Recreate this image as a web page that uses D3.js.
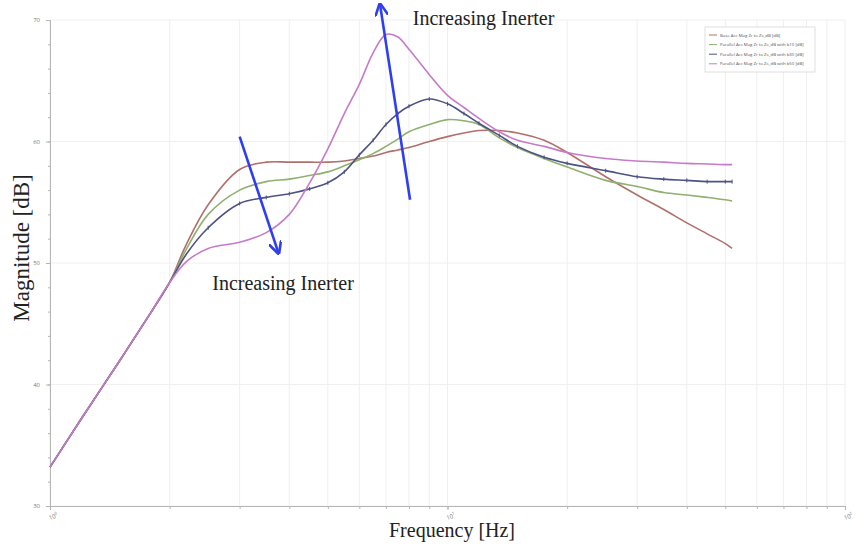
<!DOCTYPE html>
<html>
<head>
<meta charset="utf-8">
<script src="https://cdn.jsdelivr.net/npm/d3@7"></script>
<style>
  body { margin: 0; background: #fff; }
  svg { display: block; }
</style>
</head>
<body>
<svg id="bode_chart"></svg>
<script>
// frequencies (Hz) shared by every series
let freqs = [1, 1.2, 1.5, 1.8, 2, 2.2, 2.5, 3, 3.5, 4, 4.5, 5, 5.5, 6, 6.5, 7, 7.5, 8, 9, 10, 11, 12, 13.5, 15, 17.5, 20, 25, 30, 35, 40, 45, 50, 52]

// magnitudes (dB)
let baseMag = [33.2, 37.2, 42.0, 46.0, 48.4, 51.5, 54.8, 57.7, 58.3, 58.3, 58.3, 58.3, 58.4, 58.6, 58.8, 59.1, 59.3, 59.5, 60.0, 60.4, 60.7, 60.9, 60.9, 60.7, 60.1, 59.1, 57.1, 55.6, 54.4, 53.3, 52.4, 51.6, 51.2]
let b10Mag = [33.2, 37.2, 42.0, 46.0, 48.4, 51.1, 54.0, 56.0, 56.7, 56.9, 57.2, 57.5, 58.0, 58.5, 59.0, 59.6, 60.2, 60.8, 61.4, 61.8, 61.7, 61.4, 60.3, 59.5, 58.6, 57.9, 56.8, 56.3, 55.8, 55.6, 55.4, 55.2, 55.1]
let b30Mag = [33.2, 37.2, 42.0, 46.0, 48.4, 50.7, 52.9, 54.9, 55.4, 55.7, 56.1, 56.6, 57.5, 58.9, 60.1, 61.4, 62.3, 62.9, 63.5, 63.1, 62.3, 61.5, 60.5, 59.6, 58.7, 58.2, 57.6, 57.1, 56.9, 56.8, 56.7, 56.7, 56.7]
let b50Mag = [33.2, 37.2, 42.0, 46.0, 48.4, 50.1, 51.2, 51.7, 52.5, 54.0, 56.6, 59.4, 62.3, 64.7, 67.3, 68.8, 68.6, 67.6, 65.5, 63.8, 62.8, 61.9, 60.8, 60.1, 59.6, 59.1, 58.6, 58.4, 58.3, 58.2, 58.15, 58.1, 58.1]

let seriesNames = [
    "Base Acc Mag Zr to Zs_dB [dB]",
    "Parallel Acc Mag Zr to Zs_dB with b10 [dB]",
    "Parallel Acc Mag Zr to Zs_dB with b30 [dB]",
    "Parallel Acc Mag Zr to Zs_dB with b50 [dB]"
]
let seriesColors = ["#b0706a", "#8fb06e", "#4c5282", "#c57bc8"]
let seriesValues = [baseMag, b10Mag, b30Mag, b50Mag]

let yTicks = [30, 40, 50, 60, 70]
let xDecades = [1, 10, 100]
let xDecadeLabels = ["0", "1", "2"]

// arrows: [from freq, from dB, to freq, to dB]
let arrows = [[3.0, 60.4, 3.75, 50.9], [8.05, 55.2, 6.77, 71.2]]
let notes = [{text: "Increasing Inerter", f: 8.18, db: 69.6}, {text: "Increasing Inerter", f: 2.56, db: 47.8}]

let width = 865
let height = 546
let plot = {left: 50, right: 845, top: 20, bottom: 506}

let svg = d3.select("#bode_chart")
    .attr("width", width)
    .attr("height", height)

let defs = svg.append("defs")
defs.append("marker")
    .attr("id", "arrow_head")
    .attr("viewBox", "0 0 10 10")
    .attr("refX", 8)
    .attr("refY", 5)
    .attr("markerWidth", 5)
    .attr("markerHeight", 5)
    .attr("orient", "auto")
    .append("path")
    .attr("d", "M0,0 L10,5 L0,10")
    .attr("fill", "none")
    .attr("stroke", "#2f3ff0")
    .attr("stroke-width", 2)

let xScale = d3.scaleLog().domain([1, 100]).range([plot.left, plot.right])
let yScale = d3.scaleLinear().domain([30, 70]).range([plot.bottom, plot.top])

// grid
let grid = svg.append("g").attr("id", "grid")
grid.selectAll("line.vgrid")
    .data(xScale.ticks())
    .join("line")
    .attr("class", "vgrid")
    .attr("x1", d => xScale(d)).attr("x2", d => xScale(d))
    .attr("y1", plot.top).attr("y2", plot.bottom)
    .attr("stroke", "#efefef")
    .attr("stroke-width", 1)
grid.selectAll("line.hgrid")
    .data(yTicks)
    .join("line")
    .attr("class", "hgrid")
    .attr("x1", plot.left).attr("x2", plot.right)
    .attr("y1", d => yScale(d)).attr("y2", d => yScale(d))
    .attr("stroke", "#f0f0f0")
    .attr("stroke-width", 1)

// axes
let yAxis = svg.append("g")
    .attr("transform", "translate(" + plot.left + ",0)")
    .call(d3.axisLeft(yScale).tickValues(d3.range(30, 71, 2)).tickSize(2).tickFormat(""))
let yAxisMajor = svg.append("g")
    .attr("transform", "translate(" + plot.left + ",0)")
    .call(d3.axisLeft(yScale).tickValues(yTicks).tickSize(4).tickPadding(6))
let xAxis = svg.append("g")
    .attr("transform", "translate(0," + plot.bottom + ")")
    .call(d3.axisBottom(xScale).tickValues(xScale.ticks()).tickSize(3).tickFormat(""))
let xAxisMajor = svg.append("g")
    .attr("transform", "translate(0," + plot.bottom + ")")
    .call(d3.axisBottom(xScale).tickValues(xDecades).tickSize(4).tickFormat(""))

svg.selectAll(".domain, .tick line").attr("stroke", "#b5b5b5")
yAxisMajor.selectAll("text")
    .attr("fill", "#777")
    .attr("font-size", 6)
    .attr("font-family", "Open Sans")

xAxisMajor.selectAll(".tick")
    .append("text")
    .attr("y", 13)
    .attr("x", -1)
    .attr("fill", "#777")
    .attr("font-size", 6)
    .attr("font-family", "Open Sans")
    .attr("text-anchor", "middle")
    .attr("transform", "rotate(-20)")
    .text("10")
    .append("tspan")
    .attr("dy", -3)
    .attr("font-size", 4)
    .text((d, i) => xDecadeLabels[i])

// curves
let line = d3.line()
    .x(d => xScale(d[0]))
    .y(d => yScale(d[1]))
    .curve(d3.curveCatmullRom.alpha(0.5))

let curves = svg.append("g").attr("id", "curves")
seriesValues.forEach(function(vals, i) {
    let pts = freqs.map((f, j) => [f, vals[j]])
    curves.append("path")
        .datum(pts)
        .attr("d", line)
        .attr("fill", "none")
        .attr("stroke", seriesColors[i])
        .attr("stroke-width", 1.6)
})

// small tick markers on the b30 curve
let b30Pts = freqs.map((f, j) => [f, b30Mag[j]]).filter(d => d[0] >= 2.5)
curves.selectAll("line.marker")
    .data(b30Pts)
    .join("line")
    .attr("class", "marker")
    .attr("x1", d => xScale(d[0])).attr("x2", d => xScale(d[0]))
    .attr("y1", d => yScale(d[1]) - 2).attr("y2", d => yScale(d[1]) + 2)
    .attr("stroke", seriesColors[2])
    .attr("stroke-width", 1)

// legend
let legend = svg.append("g").attr("transform", "translate(705,27)")
legend.append("rect")
    .attr("width", 110).attr("height", 45)
    .attr("fill", "#fff")
    .attr("stroke", "#d8d8d8")
    .attr("stroke-width", 0.8)
seriesNames.forEach(function(name, i) {
    let row = legend.append("g").attr("transform", "translate(4," + (8 + i * 9.6) + ")")
    row.append("line")
        .attr("x1", 0).attr("x2", 8)
        .attr("stroke", seriesColors[i])
        .attr("stroke-width", 1)
    row.append("text")
        .attr("x", 11).attr("y", 1.6)
        .attr("font-size", 4.3)
        .attr("font-family", "Open Sans")
        .attr("fill", "#555")
        .text(name)
})

// annotation arrows and text
svg.selectAll("line.arrow")
    .data(arrows)
    .join("line")
    .attr("class", "arrow")
    .attr("x1", d => xScale(d[0])).attr("y1", d => yScale(d[1]))
    .attr("x2", d => xScale(d[2])).attr("y2", d => yScale(d[3]))
    .attr("stroke", "#2f3ff0")
    .attr("stroke-width", 2.6)
    .attr("marker-end", "url(#arrow_head)")

svg.selectAll("text.note")
    .data(notes)
    .join("text")
    .attr("class", "note")
    .attr("x", d => xScale(d.f))
    .attr("y", d => yScale(d.db))
    .attr("font-family", "Liberation Serif")
    .attr("font-size", 20)
    .attr("fill", "#222")
    .text(d => d.text)

// axis titles
svg.append("text")
    .text("Frequency [Hz]")
    .attr("x", 452)
    .attr("y", 537)
    .attr("text-anchor", "middle")
    .attr("font-family", "Liberation Serif")
    .attr("font-size", 20)
    .attr("fill", "#222")

svg.append("text")
    .text("Magnitude [dB]")
    .attr("text-anchor", "middle")
    .attr("font-family", "Liberation Serif")
    .attr("font-size", 23)
    .attr("fill", "#222")
    .attr("transform", "translate(29, 248) rotate(270)")
</script>
</body>
</html>
